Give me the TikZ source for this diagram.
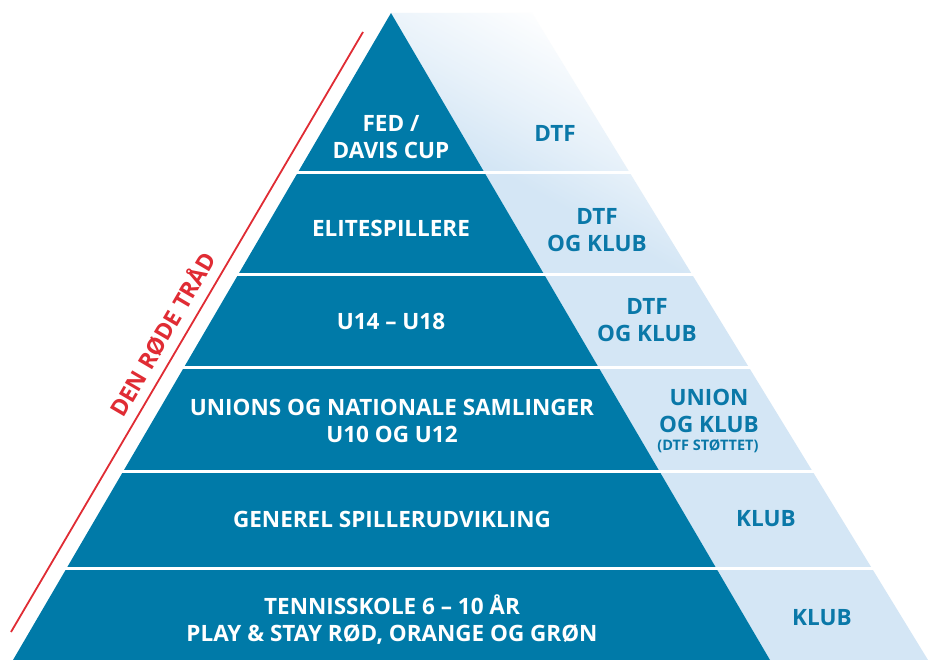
\documentclass[tikz,border=0pt]{standalone}
\usepackage{fontspec}
\setmainfont{Open Sans}
\definecolor{dkblue}{RGB}{0,122,168}
\definecolor{ltblue}{RGB}{212,230,245}
\definecolor{txtblue}{RGB}{10,120,168}
\definecolor{redtone}{RGB}{224,44,52}
\pgfdeclareverticalshading{lbfade}{100bp}{color(0bp)=(ltblue); color(55.5bp)=(ltblue); color(61bp)=(ltblue!55!white); color(69bp)=(white); color(100bp)=(white)}
\begin{document}
\begin{tikzpicture}[x=1pt,y=-1pt,
  darktxt/.style={text=white, align=center, font=\fontsize{22.5}{27}\selectfont\bfseries, inner sep=0pt},
  lighttxt/.style={text=txtblue, align=center, font=\fontsize{22.5}{27}\selectfont\bfseries, inner sep=0pt},
  smalltxt/.style={text=txtblue, align=center, font=\fontsize{14.5}{16}\selectfont\bfseries, inner sep=0pt},
  sep/.style={draw=white, line width=3pt},
  redtxt/.style={text=redtone, font=\fontsize{23}{25}\selectfont\bfseries, inner sep=0pt}]
\useasboundingbox (0,0) rectangle (928,660);
\fill[white] (0,0) rectangle (928,660);
% light region
\path[shading=lbfade, shading angle=-29] (391,13) -- (532,13) -- (928,660) -- (770,660) -- cycle;
% dark triangle
\fill[dkblue] (391,13) -- (770,660) -- (13,660) -- cycle;
% separators
\foreach \yy in {173,274,367,471,568} \draw[sep] (0,\yy) -- (928,\yy);
% red thread
\coordinate (ra) at (11,632);
\coordinate (rb) at (363,32);
\draw[redtone, line width=1.8pt] (ra) -- (rb);
\node[redtxt, rotate=59.6] (rt) at (162,334) {DEN RØDE TRÅD};
% left texts
\node[darktxt] (l1) at (391,137) {FED /\\DAVIS CUP};
\node[darktxt] (l2) at (391,228) {ELITESPILLERE};
\node[darktxt] (l3) at (391,321) {U14 – U18};
\node[darktxt] (l4) at (392,421) {UNIONS OG NATIONALE SAMLINGER\\U10 OG U12};
\node[darktxt] (l5) at (392,519) {GENEREL SPILLERUDVIKLING};
\node[darktxt] (l6) at (392,620) {TENNISSKOLE 6 – 10 ÅR\\PLAY \& STAY RØD, ORANGE OG GRØN};
% right texts
\node[lighttxt] (r1) at (555,133) {DTF};
\node[lighttxt] (r2) at (597,230) {DTF\\OG KLUB};
\node[lighttxt] (r3) at (647,320) {DTF\\OG KLUB};
\node[lighttxt] (r4) at (709,411) {UNION\\OG KLUB};
\node[smalltxt] (r4s) at (708,446) {(DTF STØTTET)};
\node[lighttxt] (r5) at (766,519) {KLUB};
\node[lighttxt] (r6) at (822,618) {KLUB};
\end{tikzpicture}
\end{document}
